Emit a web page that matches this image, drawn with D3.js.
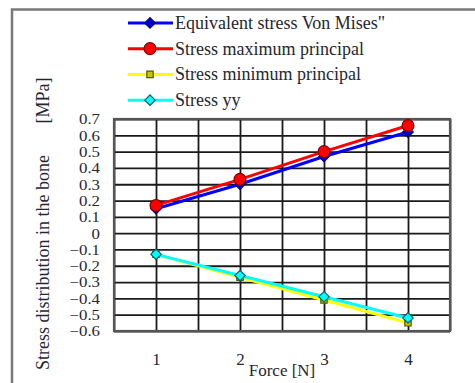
<!DOCTYPE html>
<html>
<head>
<meta charset="utf-8">
<script src="https://cdn.jsdelivr.net/npm/d3@7"></script>
<style>
  body { margin: 0; background: #fff; }
  text { font-family: "Liberation Serif", "Times New Roman", serif; fill: #262633; }
</style>
</head>
<body>
<div id="chart"></div>
<script>
var svgWidth = 475;
var svgHeight = 383;

// data
var forces = [1, 2, 3, 4];
var vonMises = [0.15, 0.30, 0.47, 0.62];
var maxPrincipal = [0.17, 0.33, 0.50, 0.66];
var minPrincipal = [-0.13, -0.27, -0.41, -0.55];
var stressYY = [-0.13, -0.26, -0.39, -0.52];
var yTickLabels = [0.7, 0.6, 0.5, 0.4, 0.3, 0.2, 0.1, 0, -0.1, -0.2, -0.3, -0.4, -0.5, -0.6];
var seriesNames = ["Equivalent stress Von Mises\"", "Stress maximum principal", "Stress minimum principal", "Stress yy"];

var series = [
  { name: seriesNames[0], values: vonMises, line: "#0000ff", fill: "#0000cc", stroke: "#000080", shape: "diamond" },
  { name: seriesNames[1], values: maxPrincipal, line: "#ff0000", fill: "#ff0000", stroke: "#800000", shape: "circle" },
  { name: seriesNames[2], values: minPrincipal, line: "#ffff00", fill: "#c8c800", stroke: "#555500", shape: "square" },
  { name: seriesNames[3], values: stressYY, line: "#00ffff", fill: "#00ffff", stroke: "#006666", shape: "diamond" }
];

var plot = { left: 114, right: 450, top: 119, bottom: 331 };

var svg = d3.select("#chart")
  .append("svg")
  .attr("width", svgWidth)
  .attr("height", svgHeight);

// outer frame (runs off the right and bottom edge)
svg.append("rect")
  .attr("x", 12)
  .attr("y", 9.5)
  .attr("width", 520)
  .attr("height", 420)
  .attr("fill", "none")
  .attr("stroke", "#7a7a7a")
  .attr("stroke-width", 2.5);

var x = d3.scaleLinear().domain([0.5, 4.5]).range([plot.left, plot.right]);
var y = d3.scaleLinear().domain([-0.6, 0.7]).range([plot.bottom, plot.top]);

// grid
svg.append("g")
  .attr("transform", `translate(0, ${plot.bottom})`)
  .call(d3.axisBottom(x).tickValues(d3.range(0.5, 4.51, 0.5)).tickSize(-(plot.bottom - plot.top)).tickFormat(""))
  .call(g => g.select(".domain").remove())
  .call(g => g.selectAll("line").attr("stroke", "#1a1a1a").attr("stroke-width", 1.8));

svg.append("g")
  .attr("transform", `translate(${plot.left}, 0)`)
  .call(d3.axisLeft(y).tickValues(yTickLabels).tickSize(-(plot.right - plot.left)).tickFormat(""))
  .call(g => g.select(".domain").remove())
  .call(g => g.selectAll("line").attr("stroke", "#1a1a1a").attr("stroke-width", 1.8));

svg.append("rect")
  .attr("x", plot.left)
  .attr("y", plot.top)
  .attr("width", plot.right - plot.left)
  .attr("height", plot.bottom - plot.top)
  .attr("fill", "none")
  .attr("stroke", "#555")
  .attr("stroke-width", 2.2);

// y tick labels (squashed a little, like the source)
svg.append("g")
  .attr("transform", `translate(${plot.left - 14}, 0)`)
  .call(d3.axisLeft(y).tickValues(yTickLabels).tickSize(0).tickPadding(0).tickFormat(d => d === 0 ? "0" : d3.format(".1f")(d)))
  .call(g => g.select(".domain").remove())
  .call(g => g.selectAll("text")
    .style("font-family", "'Liberation Serif', serif")
    .style("font-size", "16px")
    .attr("transform", "scale(1.05, 0.85)")
    .attr("dy", "0.36em")
    .attr("fill", "#22223a"));

// x tick labels
svg.append("g")
  .attr("transform", `translate(0, ${plot.bottom + 22})`)
  .call(d3.axisBottom(x).tickValues(forces).tickSize(0).tickPadding(0).tickFormat(d3.format("d")))
  .call(g => g.select(".domain").remove())
  .call(g => g.selectAll("text")
    .style("font-family", "'Liberation Serif', serif")
    .style("font-size", "17px")
    .attr("fill", "#22223a"));

svg.append("text")
  .attr("x", x(2.5))
  .attr("y", 376)
  .attr("text-anchor", "middle")
  .style("font-size", "17px")
  .text("Force [N]");

svg.append("text")
  .attr("transform", `translate(49, 370) rotate(-90)`)
  .attr("text-anchor", "start")
  .style("font-size", "18px")
  .attr("xml:space", "preserve")
  .text("Stress distribution in the bone       [MPa]");

// markers
function drawMarker(g, shape, cx, cy, s) {
  var sym, rot = 0;
  if (shape === "circle") sym = d3.symbol(d3.symbolCircle, 110);
  else if (shape === "square") sym = d3.symbol(d3.symbolSquare, 40);
  else { sym = d3.symbol(d3.symbolSquare, 55); rot = 45; }
  g.append("path")
    .attr("d", sym())
    .attr("transform", `translate(${cx}, ${cy}) rotate(${rot})`)
    .attr("fill", s.fill)
    .attr("stroke", s.stroke)
    .attr("stroke-width", 1.2);
}

var line = d3.line()
  .x((d, i) => x(forces[i]))
  .y(d => y(d));

series.forEach(s => {
  var g = svg.append("g");
  g.append("path")
    .datum(s.values)
    .attr("d", line)
    .attr("fill", "none")
    .attr("stroke", s.line)
    .attr("stroke-width", 3);
  s.values.forEach((v, i) => drawMarker(g, s.shape, x(forces[i]), y(v), s));
});

// legend
var legendY = d3.scaleBand().domain(seriesNames).range([10, 113]);
series.forEach(s => {
  var cy = legendY(s.name) + legendY.bandwidth() / 2;
  var g = svg.append("g");
  g.append("line")
    .attr("x1", 128).attr("x2", 173)
    .attr("y1", cy).attr("y2", cy)
    .attr("stroke", s.line)
    .attr("stroke-width", 3);
  drawMarker(g, s.shape, 150, cy, s);
  g.append("text")
    .attr("x", 175)
    .attr("y", cy + 6)
    .style("font-size", "18px")
    .text(s.name);
});
</script>
</body>
</html>
